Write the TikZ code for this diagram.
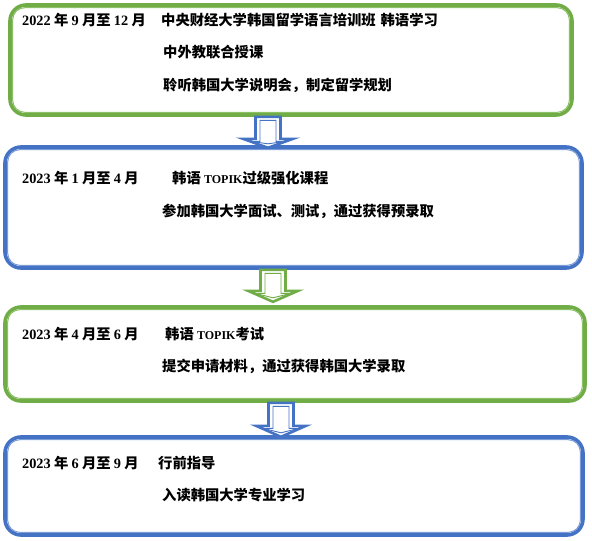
\documentclass[tikz,border=0pt]{standalone}
\usepackage{fontspec}
\setmainfont{Liberation Serif}
\newfontfamily\cjk{Noto Sans CJK SC}
\newcommand{\lat}[1]{{\normalfont\bfseries #1}}
\definecolor{gr}{HTML}{70AD47}
\definecolor{grl}{HTML}{8CC168}
\definecolor{bl}{HTML}{4472C4}
\definecolor{bll}{HTML}{7C9DD8}
\tikzset{
  stagebox/.style={draw=#1, line width=3.6pt, rounded corners=16pt, inner sep=0pt, fill=white},
  innerline/.style={draw=#1, line width=1pt, rounded corners=12pt},
  txt/.style={anchor=west, inner sep=0pt, font=\cjk\bfseries\fontsize{14.3}{16}\selectfont},
  pics/downarrow/.style n args={3}{code={
    \draw[#1, line width=2.6pt, line join=miter, fill=white]
      (-12.5,0) -- (12.5,0) -- (12.5,#2) -- (25,#2) -- (0,#3) -- (-25,#2) -- (-12.5,#2) -- cycle;
    \draw[#1, line width=0.9pt]
      (-8,3.5) -- (8,3.5) -- (8,#2+2.5) -- (18,#2+2.5) -- (0,#3-4) -- (-18,#2+2.5) -- (-8,#2+2.5) -- cycle;
  }}
}
\begin{document}
\begin{tikzpicture}[x=1pt,y=-1pt]
\useasboundingbox (0,0) rectangle (592,541);
\fill[white] (0,0) rectangle (592,541);

% boxes
\node[stagebox=gr, minimum width=562pt, minimum height=110pt] (b1) at (291,60) {};
\node[stagebox=bl, minimum width=577pt, minimum height=121pt] (b2) at (293.5,207.5) {};
\node[stagebox=gr, minimum width=580pt, minimum height=94pt] (b3) at (295,354) {};
\node[stagebox=bl, minimum width=578pt, minimum height=98pt] (b4) at (294,486) {};
\foreach \b/\c in {b1/grl,b2/bll,b3/grl,b4/bll}{
  \draw[innerline=\c] ([shift={(4.5,4.5)}]\b.north west) rectangle ([shift={(-4.5,-4.5)}]\b.south east);
}

% arrows
\pic at (268,0 |- b1.south) {downarrow={bl}{22}{31}};
\pic at (273,0 |- b2.south) {downarrow={gr}{21}{32}};
\pic at (281,0 |- b3.south) {downarrow={bl}{23}{34}};

% box 1 text
\node[txt] (t11) at (22,20) {\lat{2022} 年 \lat{9} 月至 \lat{12} 月};
\node[txt] (t12) at (161,20) {中央财经大学韩国留学语言培训班\hspace{5pt}韩语学习};
\node[txt] (t13) at (163,52) {中外教联合授课};
\node[txt] (t14) at (163,85) {聆听韩国大学说明会，制定留学规划};

% box 2 text
\node[txt] (t21) at (22,178) {\lat{2023} 年 \lat{1} 月至 \lat{4} 月};
\node[txt] (t22) at (172,178) {韩语 \lat{\fontsize{12}{14}\selectfont TOPIK}过级强化课程};
\node[txt] (t23) at (162,211) {参加韩国大学面试、测试，通过获得预录取};

% box 3 text
\node[txt] (t31) at (22,334) {\lat{2023} 年 \lat{4} 月至 \lat{6} 月};
\node[txt] (t32) at (165,334) {韩语 \lat{\fontsize{12}{14}\selectfont TOPIK}考试};
\node[txt] (t33) at (162,366) {提交申请材料，通过获得韩国大学录取};

% box 4 text
\node[txt] (t41) at (22,463) {\lat{2023} 年 \lat{6} 月至 \lat{9} 月};
\node[txt] (t42) at (158,463) {行前指导};
\node[txt] (t43) at (162,495) {入读韩国大学专业学习};
\end{tikzpicture}
\end{document}
